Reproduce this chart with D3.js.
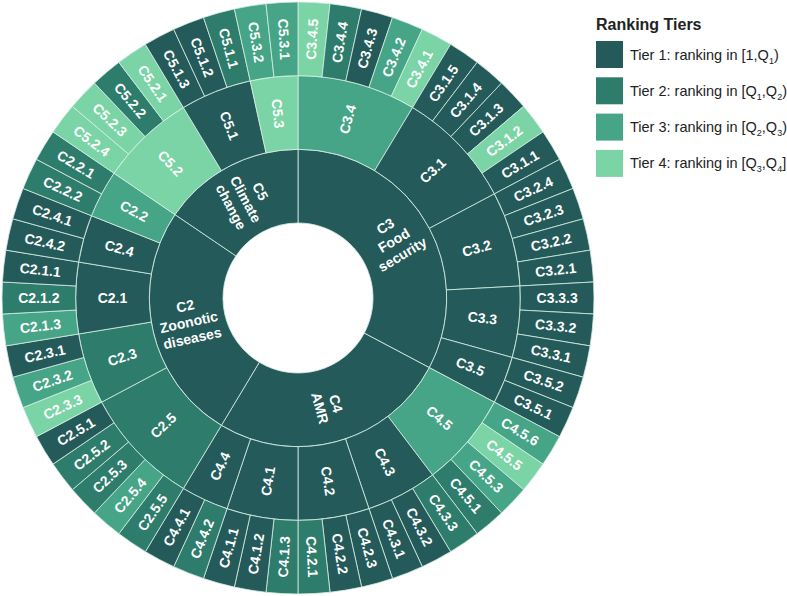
<!DOCTYPE html>
<html>
<head>
<meta charset="utf-8">
<script src="https://cdn.jsdelivr.net/npm/d3@7"></script>
<style>
  body { margin: 0; background: #fff; }
  svg { display: block; font-family: "Liberation Sans", Arial, sans-serif; }
</style>
</head>
<body>
<div id="chart"></div>
<script>
// inner ring: the four categories, clockwise from 12 o'clock
const ringOne = ["C3", "C4", "C2", "C5"];
const ringOneLabels = [["C3", "Food", "security"], ["C4", "AMR"], ["C2", "Zoonotic", "diseases"], ["C5", "Climate", "change"]];
const ringOneTiers = [1, 1, 1, 1];

// middle ring
const ringTwo = ["C3.4", "C3.1", "C3.2", "C3.3", "C3.5",
  "C4.5", "C4.3", "C4.2", "C4.1", "C4.4",
  "C2.5", "C2.3", "C2.1", "C2.4", "C2.2",
  "C5.2", "C5.1", "C5.3"];
const ringTwoTiers = [3, 1, 1, 1, 1,
  3, 1, 1, 1, 1,
  2, 2, 1, 1, 3,
  4, 1, 4];

// outer ring (leaves)
const leaves = ["C3.4.5", "C3.4.4", "C3.4.3", "C3.4.2", "C3.4.1",
  "C3.1.5", "C3.1.4", "C3.1.3", "C3.1.2", "C3.1.1",
  "C3.2.4", "C3.2.3", "C3.2.2", "C3.2.1",
  "C3.3.3", "C3.3.2", "C3.3.1",
  "C3.5.2", "C3.5.1",
  "C4.5.6", "C4.5.5", "C4.5.3", "C4.5.1",
  "C4.3.3", "C4.3.2", "C4.3.1",
  "C4.2.3", "C4.2.2", "C4.2.1",
  "C4.1.3", "C4.1.2", "C4.1.1",
  "C4.4.2", "C4.4.1",
  "C2.5.5", "C2.5.4", "C2.5.3", "C2.5.2", "C2.5.1",
  "C2.3.3", "C2.3.2", "C2.3.1",
  "C2.1.3", "C2.1.2", "C2.1.1",
  "C2.4.2", "C2.4.1",
  "C2.2.2", "C2.2.1",
  "C5.2.4", "C5.2.3", "C5.2.2", "C5.2.1",
  "C5.1.3", "C5.1.2", "C5.1.1",
  "C5.3.2", "C5.3.1"];
const leafTiers = [4, 2, 1, 3, 4,
  1, 1, 1, 4, 1,
  1, 1, 1, 1,
  1, 1, 1,
  1, 1,
  3, 4, 3, 2,
  2, 1, 1,
  1, 1, 2,
  2, 1, 1,
  2, 1,
  2, 3, 2, 2, 1,
  4, 3, 1,
  3, 2, 1,
  1, 1,
  2, 2,
  4, 4, 2, 4,
  1, 1, 2,
  3, 3];

const tierNames = ["Tier 1: ranking in [1,Q|1|)", "Tier 2: ranking in [Q|1|,Q|2|)",
  "Tier 3: ranking in [Q|2|,Q|3|)", "Tier 4: ranking in [Q|3|,Q|4|]"];
const tierColors = ["#245a59", "#2e7c6b", "#46a586", "#7bd4a6"];

const width = 787, height = 596;
const cx = 298, cy = 298;

const svg = d3.select("#chart").append("svg")
  .attr("width", width)
  .attr("height", height);

// flat table -> hierarchy
const rows = [{id: "root", parent: null, tier: 0}];
ringOne.forEach((id, i) => rows.push({id: id, parent: "root", tier: ringOneTiers[i], lines: ringOneLabels[i]}));
ringTwo.forEach((id, i) => rows.push({id: id, parent: id.split(".")[0], tier: ringTwoTiers[i]}));
leaves.forEach((id, i) => rows.push({id: id, parent: id.slice(0, id.lastIndexOf(".")), tier: leafTiers[i]}));

const root = d3.stratify().id(d => d.id).parentId(d => d.parent)(rows)
  .count();

d3.partition().size([2 * Math.PI, 4])(root);

const r = d3.scaleLinear().domain([1, 4]).range([75, 296]);

const arc = d3.arc()
  .startAngle(d => d.x0)
  .endAngle(d => d.x1)
  .innerRadius(d => r(d.y0))
  .outerRadius(d => r(d.y1));

const g = svg.append("g").attr("transform", "translate(" + cx + "," + cy + ")");
const nodes = root.descendants().filter(d => d.depth > 0);

g.selectAll("path")
  .data(nodes)
  .join("path")
  .attr("d", arc)
  .attr("fill", d => tierColors[d.data.tier - 1])
  .attr("stroke", "#d6eee5")
  .attr("stroke-width", 0.8);

const label = g.selectAll("text.seg")
  .data(nodes)
  .join("text")
  .attr("class", "seg")
  .attr("transform", function(d) {
    const a = (d.x0 + d.x1) / 2 * 180 / Math.PI;
    const rr = (r(d.y0) + r(d.y1)) / 2;
    return "rotate(" + (a - 90) + ") translate(" + rr + ",0) rotate(" + (a < 180 ? 0 : 180) + ")";
  })
  .attr("text-anchor", "middle")
  .attr("fill", "#fff")
  .attr("font-size", 14)
  .attr("font-weight", "bold");

label.each(function(d) {
  const t = d3.select(this);
  const lines = d.data.lines || [d.data.id];
  const lh = 16.5;
  lines.forEach((s, i) => {
    t.append("tspan")
      .attr("x", 0)
      .attr("y", (i - (lines.length - 1) / 2) * lh)
      .attr("dy", "0.35em")
      .text(s);
  });
});

// legend
const legend = svg.append("g").attr("transform", "translate(596,0)");
legend.append("text")
  .attr("x", 0).attr("y", 30)
  .attr("font-size", 16)
  .attr("font-weight", "bold")
  .attr("fill", "#222")
  .text("Ranking Tiers");

tierNames.forEach((name, i) => {
  const y0 = 41 + i * 36.3;
  legend.append("rect")
    .attr("x", 0).attr("y", y0)
    .attr("width", 27).attr("height", 27)
    .attr("fill", tierColors[i]);
  const t = legend.append("text")
    .attr("x", 34).attr("y", y0 + 18.5)
    .attr("font-size", 14.5)
    .attr("fill", "#222");
  // pieces between | are subscripts
  name.split("|").forEach((part, j) => {
    if (j % 2 === 1) {
      t.append("tspan").attr("font-size", 9).attr("dy", 4).text(part);
    } else {
      const sp = t.append("tspan").text(part);
      if (j > 0) sp.attr("dy", -4);
    }
  });
});
</script>
</body>
</html>
